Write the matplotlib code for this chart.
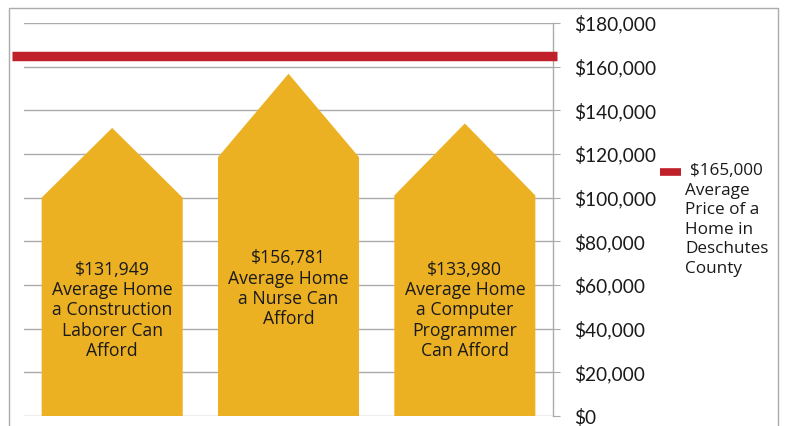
import matplotlib
matplotlib.use("Agg")
import matplotlib.pyplot as plt
from matplotlib.patches import Polygon, Rectangle
from matplotlib.lines import Line2D
from matplotlib.ticker import FuncFormatter

categories = ["Construction Laborer", "Nurse", "Computer Programmer"]
values = [131949, 156781, 133980]
shoulders = [100000, 118500, 101000]
labels = [
    "$131,949\nAverage Home\na Construction\nLaborer Can\nAfford",
    "$156,781\nAverage Home\na Nurse Can\nAfford",
    "$133,980\nAverage Home\na Computer\nProgrammer\nCan Afford",
]
label_tops = [71000, 76300, 71000]
county_avg = 165000
legend_label = "$165,000"
legend_text = "Average\nPrice of a\nHome in\nDeschutes\nCounty"
yticks = list(range(0, 180001, 20000))

W, H = 786, 426
fig = plt.figure(figsize=(W / 100, H / 100), dpi=100)
font = ["Open Sans", "DejaVu Sans"]
tick_font = ["Lato", "DejaVu Sans"]

ax = fig.add_axes([24 / W, 10 / H, (553 - 24) / W, (416 - 23) / H])
ax.set_xlim(0, 3)
ax.set_ylim(0, 180000)

grid_col = "#ABABAB"
for t in yticks:
    ax.axhline(t, color=grid_col, lw=1.0, zorder=0)

bar_col = "#ECB122"
hw = 0.4
for i, (v, s) in enumerate(zip(values, shoulders)):
    xc = i + 0.5
    poly = Polygon([(xc - hw, 0), (xc + hw, 0), (xc + hw, s), (xc, v), (xc - hw, s)],
                   closed=True, facecolor=bar_col, edgecolor="none", zorder=2)
    ax.add_patch(poly)
    ax.text(xc, label_tops[i], labels[i], ha="center", va="top", fontsize=12.7,
            family=font, color="#1a1a1a", linespacing=1.16, zorder=3)

# red average line extending slightly beyond the left of the axes
ax.plot([-0.068, 3.025], [county_avg, county_avg], color="#C0202A", lw=6.8,
        solid_capstyle="butt", zorder=4, clip_on=False)

for side in ["top", "left", "bottom"]:
    ax.spines[side].set_visible(False)
ax.spines["right"].set_color(grid_col)
ax.spines["right"].set_linewidth(1.0)
ax.yaxis.tick_right()
ax.set_yticks(yticks)
ax.yaxis.set_major_formatter(FuncFormatter(lambda v, p: "${:,.0f}".format(v)))
ax.tick_params(axis="y", direction="out", length=5, color=grid_col, pad=10,
               labelsize=13.8, labelcolor="#1a1a1a")
for lbl in ax.get_yticklabels():
    lbl.set_family(tick_font)
ax.set_xticks([])

# legend
fig.add_artist(Line2D([660 / W, 681 / W], [1 - 172 / H, 1 - 172 / H],
                      color="#C0202A", lw=5.5, solid_capstyle="butt"))
fig.text(690 / W, 1 - 171 / H, legend_label, ha="left", va="center",
         fontsize=12.3, family=font, color="#1a1a1a")
fig.text(685 / W, 1 - 183 / H, legend_text, ha="left", va="top",
         fontsize=12.3, family=font, color="#1a1a1a", linespacing=1.29)

# outer frame
fig.add_artist(Rectangle((8.5 / W, -0.01), (778 - 8.5) / W, (426 - 8) / H + 0.01,
                         transform=fig.transFigure, fill=False,
                         edgecolor="#ABABAB", lw=1.0))

fig.savefig("out.png", dpi=100)
